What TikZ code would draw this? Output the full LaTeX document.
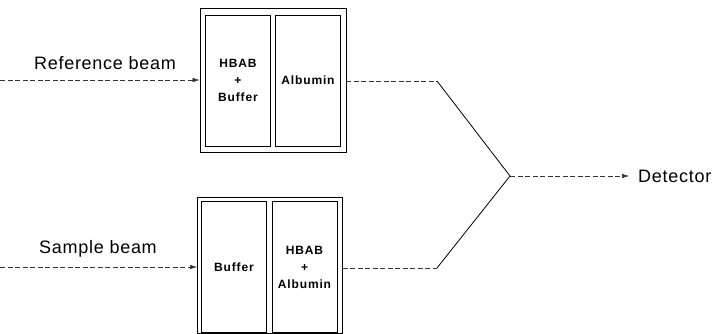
\documentclass[tikz,border=0pt]{standalone}
\usepackage{fontspec}
\setmainfont{Liberation Sans}
\usetikzlibrary{arrows.meta}
\begin{document}
\begin{tikzpicture}[x=1pt,y=-1pt,
  outerbox/.style={draw, line width=0.9pt, minimum width=#1, inner sep=0pt},
  cell/.style={draw, line width=0.8pt, inner sep=0pt, minimum height=131pt, minimum width=65pt,
     font=\fontsize{12}{15}\selectfont\bfseries\addfontfeatures{LetterSpace=7}, align=center},
  beamlabel/.style={font=\fontsize{18}{20}\selectfont\addfontfeatures{LetterSpace=4}, inner sep=0pt},
  beam/.style={line width=0.5pt, dash pattern=on 5pt off 2.5pt, black!80},
  tip/.style={-{Latex[length=7pt,width=4.5pt]}},
  joinline/.style={line width=0.8pt}]
\useasboundingbox (0,0) rectangle (717,334);
% top assembly
\node[outerbox=146pt, minimum height=144pt] (topbox) at (273,80) {};
\node[cell] (topleft) at (238,80.5) {HBAB\\[2pt]+\\[2pt]Buffer};
\node[cell] (topright) at (308,80.5) {Albumin};
% bottom assembly
\node[outerbox=145pt, minimum height=136pt] (botbox) at (270,265) {};
\node[cell] (botleft) at (234,267) {Buffer};
\node[cell] (botright) at (304.5,267) {HBAB\\[2pt]+\\[2pt]Albumin};
% labels
\node[beamlabel] (reflabel) at (105,63) {Reference beam};
\node[beamlabel] (samplabel) at (98,249) {Sample beam};
\node[beamlabel, anchor=west] (detlabel) at (638,176) {Detector};
% coordinates
\coordinate (refstart) at (0,80);
\coordinate (sampstart) at (0,267);
\coordinate (topbend) at (437,81);
\coordinate (botbend) at (437,268);
\coordinate (merge) at (510,176);
% beams
\draw[beam, tip] (refstart) -- (topbox.west |- refstart);
\draw[beam, tip] (sampstart) -- (botbox.west |- sampstart);
\draw[beam] (topbox.east |- topbend) -- (topbend);
\draw[beam] (botbox.east |- botbend) -- (botbend);
\draw[joinline] (topbend) -- (merge) -- (botbend);
\draw[beam, tip, shorten >=9pt] (merge) -- (detlabel.west);
\end{tikzpicture}
\end{document}
